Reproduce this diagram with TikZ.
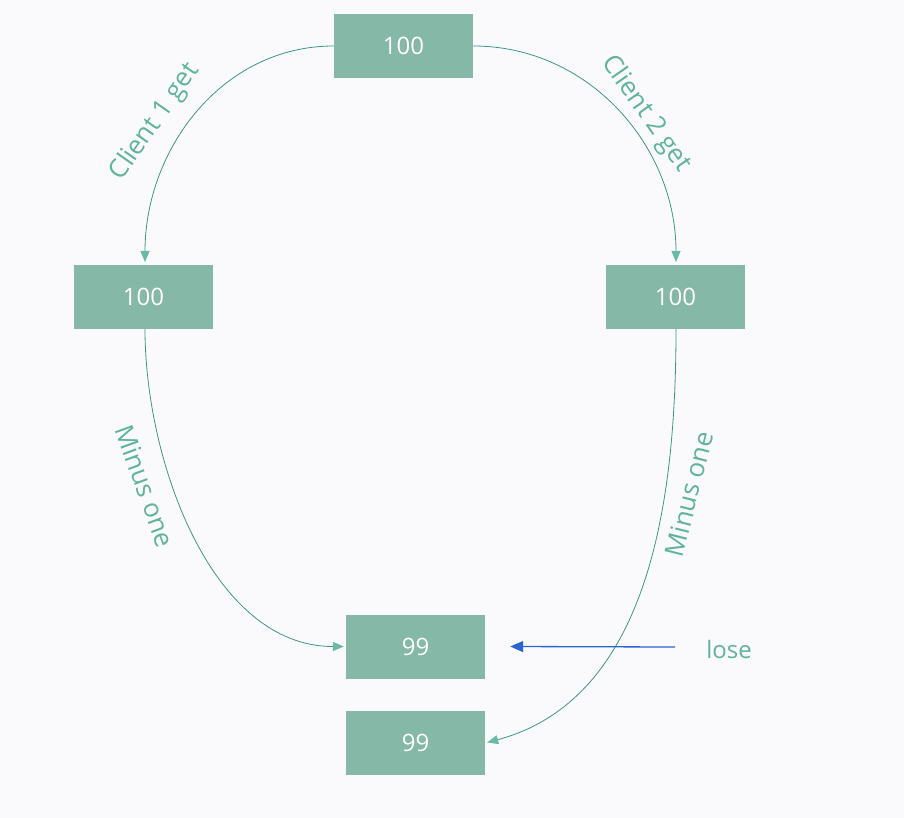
\documentclass[tikz,border=0pt]{standalone}
\usepackage{fontspec}
\setmainfont{Open Sans}
\usetikzlibrary{arrows.meta}
\definecolor{boxfill}{RGB}{133,184,166}
\definecolor{linec}{RGB}{60,150,135}
\definecolor{tipc}{RGB}{105,185,165}
\definecolor{labc}{RGB}{95,180,155}
\definecolor{bluec}{RGB}{40,100,210}
\definecolor{bgc}{RGB}{250,250,252}
\begin{document}
\begin{tikzpicture}[x=1pt,y=-1pt,
  valbox/.style={fill=boxfill,minimum width=139pt,minimum height=64pt,inner sep=0pt,text=white,font=\fontsize{24}{28}\selectfont},
  conn/.style={draw=linec,line width=0.8pt,-{Triangle[length=11pt,width=9pt,fill=tipc,color=tipc]}},
  lab/.style={text=labc,font=\fontsize{26}{30}\selectfont,inner sep=0pt},
  bluearrow/.style={draw=bluec,line width=1.3pt,-{Triangle[length=13pt,width=11pt]}}]
\fill[bgc] (0,0) rectangle (904,818);
\useasboundingbox (0,0) rectangle (904,818);
\node[valbox] (top) at (403.5,46) {100};
\node[valbox] (left) at (143.5,296.5) {100};
\node[valbox] (right) at (675.5,296.5) {100};
\node[valbox] (a) at (415.5,646.5) {99};
\node[valbox] (b) at (415.5,742.5) {99};
\coordinate (lt) at (145,262);
\coordinate (rt) at (676,262);
\coordinate (lb) at (145,329);
\coordinate (rb) at (676,329);
\draw[conn] (top.west) to[out=180,in=90] (lt);
\draw[conn] (top.east) to[out=0,in=90] (rt);
\draw[conn] (lb) to[out=-90,in=180,looseness=0.9] ([xshift=-2pt]a.west);
\draw[conn] (rb) to[out=-90,in=15,looseness=0.95] ([xshift=2pt]b.east);
\node[lab,font=\fontsize{24}{28}\selectfont] (lose) at (729,649) {lose};
\draw[bluearrow] (675,647) -- ([xshift=25pt]a.east);
\node[lab,rotate=55] (c1) at (155,122) {Client 1 get};
\node[lab,rotate=-55] (c2) at (646,114) {Client 2 get};
\node[lab,rotate=-70] (m1) at (145,486) {Minus one};
\node[lab,rotate=76] (m2) at (689,494) {Minus one};
\end{tikzpicture}
\end{document}
